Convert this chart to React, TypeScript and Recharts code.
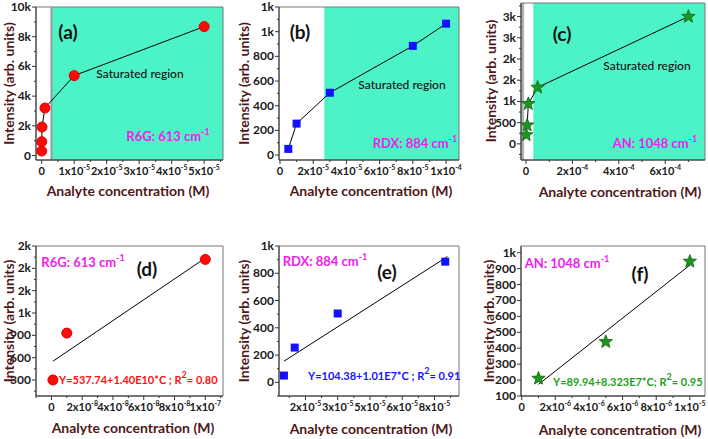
import React from 'react';
import { ScatterChart, Scatter, XAxis, YAxis, ReferenceArea, ReferenceLine } from 'recharts';

const FONT = 'Lato, "Open Sans", sans-serif';
const TEAL = '#4cf3c6';
const TITLE = '#4f1818';
const MAGENTA = '#ee22ee';

// R6G, 613 cm-1
const r6gConc = [1e-9, 1e-8, 1e-7, 1e-6, 1e-5, 5e-5];
const r6gIntensity = [300, 930, 1920, 3200, 5380, 8680];
// RDX, 884 cm-1
const rdxConc = [5e-6, 1e-5, 3e-5, 8e-5, 1e-4];
const rdxIntensity = [50, 255, 505, 885, 1065];
// AN, 1048 cm-1
const anConc = [1e-6, 5e-6, 1e-5, 5e-5, 7e-4];
const anIntensity = [210, 440, 945, 1330, 3000];

const r6gFitConc = [1e-9, 9.8e-8];
const r6gFitIntensity = [552, 1910];
const rdxFitConc = [5e-6, 8.1e-5];
const rdxFitIntensity = [155, 922];
const anFitConc = [1e-6, 1e-5];
const anFitIntensity = [173, 922];

// ticks
const aXTicks = [0, 1e-5, 2e-5, 3e-5, 4e-5, 5e-5];
const aYTicks = [0, 2000, 4000, 6000, 8000, 10000];
const bXTicks = [0, 2e-5, 4e-5, 6e-5, 8e-5, 1e-4];
const bYTicks = [0, 200, 400, 600, 800, 1000, 1200];
const cXTicks = [0, 2e-4, 4e-4, 6e-4];
const cYTicks = [0, 500, 1000, 1500, 2000, 2500, 3000];
const dXTicks = [0, 2e-8, 4e-8, 6e-8, 8e-8, 1e-7];
const dYTicks = [300, 600, 900, 1200, 1500, 1800, 2100];
const eXTicks = [1.5e-5, 3e-5, 4.5e-5, 6e-5, 7.5e-5];
const eYTicks = [0, 200, 400, 600, 800, 1000];
const fXTicks = [0, 2e-6, 4e-6, 6e-6, 8e-6, 1e-5];
const fYTicks = [100, 200, 300, 400, 500, 600, 700, 800, 900, 1000];

const zip = (xs: number[], ys: number[]) => xs.map((x, i) => ({ x, y: ys[i] }));

const near = (a: number, b: number) => Math.abs(a - b) <= Math.abs(b) * 1e-6 + 1e-15;

// majors plus half-step minors inside the domain
function withMinors(majors: number[], domain: [number, number], minor = true) {
  if (!minor) return majors;
  const half = (majors[1] - majors[0]) / 2;
  const out: number[] = [];
  for (let k = -40; k <= 2 * majors.length + 40; k++) {
    const v = majors[0] + k * half;
    if (v >= domain[0] - 1e-15 && v <= domain[1] + 1e-15) out.push(v);
  }
  return out;
}

const fmtK = (v: number) => (v >= 1000 ? `${Math.round(v / 1000)}k` : `${v}`);

function sci(v: number): [string, string] | null {
  if (v === 0) return null;
  const e = Math.floor(Math.log10(v) + 1e-9);
  const m = Math.round(Math.round((v / Math.pow(10, e)) * 1e6) / 1e6);
  return [`${m}x10`, `${e}`];
}

const XTick = (props: any) => {
  const { x, y, payload, majors } = props;
  const v = payload.value;
  const major = majors.some((m: number) => near(v, m));
  const s = sci(v);
  return (
    <g>
      <line x1={x} x2={x} y1={y} y2={y + (major ? 4 : 2)} stroke="#333" />
      {major && (
        <text x={x} y={y + 15} textAnchor="middle" fontSize={11} fontWeight={700} fill="#1a1a1a" fontFamily={FONT}>
          {s ? s[0] : '0'}
          {s && (
            <tspan dy={-5} fontSize={7}>
              {s[1]}
            </tspan>
          )}
        </text>
      )}
    </g>
  );
};

const YTick = (props: any) => {
  const { x, y, payload, majors } = props;
  const v = payload.value;
  const major = majors.some((m: number) => near(v, m));
  return (
    <g>
      <line x1={x - (major ? 4 : 2)} x2={x} y1={y} y2={y} stroke="#333" />
      {major && (
        <text x={x - 5} y={y + 4} textAnchor="end" fontSize={12} fontWeight={700} fill="#1a1a1a" fontFamily={FONT}>
          {fmtK(v)}
        </text>
      )}
    </g>
  );
};

const RedDot = (p: any) => <circle cx={p.cx} cy={p.cy} r={5} fill="#ff0a0a" stroke="#e00000" />;
const BlueSquare = (p: any) => <rect x={p.cx - 4} y={p.cy - 4} width={8} height={8} fill="#1212ff" />;
const GreenStar = (p: any) => {
  const pts: string[] = [];
  for (let i = 0; i < 10; i++) {
    const r = i % 2 === 0 ? 7 : 3;
    const a = -Math.PI / 2 + (i * Math.PI) / 5;
    pts.push(`${p.cx + r * Math.cos(a)},${p.cy + r * Math.sin(a)}`);
  }
  return <polygon points={pts.join(' ')} fill="#1f941f" stroke="#0f6a0f" strokeWidth={0.8} />;
};
const NoMark = () => <g />;

type PanelProps = {
  left: number;
  top: number;
  width: number;
  height: number;
  mTop: number;
  mRight: number;
  yWidth: number;
  xDomain: [number, number];
  yDomain: [number, number];
  xTicks: number[];
  yTicks: number[];
  yMinor?: boolean;
  tealFrom?: number;
  tealEdge?: boolean;
  grayStrip?: [number, number];
  points: { x: number; y: number }[];
  joined?: boolean;
  fit?: { x: number; y: number }[];
  shape: any;
};

function Panel(p: PanelProps) {
  const [x0, x1] = p.xDomain;
  const [y0, y1] = p.yDomain;
  return (
    <div style={{ position: 'absolute', left: p.left, top: p.top }}>
      <ScatterChart width={p.width} height={p.height} margin={{ top: p.mTop, right: p.mRight, bottom: 0, left: 0 }}>
        <XAxis
          type="number"
          dataKey="x"
          domain={p.xDomain}
          allowDataOverflow
          ticks={withMinors(p.xTicks, p.xDomain)}
          interval={0}
          tickSize={0}
          tickMargin={0}
          tickLine={false}
          height={25}
          axisLine={{ stroke: '#333' }}
          tick={<XTick majors={p.xTicks} />}
        />
        <YAxis
          type="number"
          dataKey="y"
          domain={p.yDomain}
          allowDataOverflow
          ticks={withMinors(p.yTicks, p.yDomain, p.yMinor !== false)}
          interval={0}
          tickSize={0}
          tickMargin={0}
          tickLine={false}
          width={p.yWidth}
          axisLine={{ stroke: '#333' }}
          tick={<YTick majors={p.yTicks} />}
        />
        {p.tealFrom !== undefined && (
          <ReferenceArea x1={p.tealFrom} x2={x1} y1={y0} y2={y1} fill={TEAL} fillOpacity={1} stroke="none" />
        )}
        {p.grayStrip && (
          <ReferenceArea x1={p.grayStrip[0]} x2={p.grayStrip[1]} y1={y0} y2={y1} fill="#b4b4b4" fillOpacity={1} stroke="none" />
        )}
        {p.tealEdge && p.tealFrom !== undefined && <ReferenceLine x={p.tealFrom} stroke="#9a9a9a" strokeWidth={2} />}
        <ReferenceArea x1={x0} x2={x1} y1={y0} y2={y1} fill="none" stroke="#777" strokeWidth={1} />
        {p.fit && (
          <Scatter data={p.fit} shape={NoMark} line={{ stroke: '#000', strokeWidth: 1 }} isAnimationActive={false} />
        )}
        <Scatter
          data={p.points}
          shape={p.shape}
          line={p.joined ? { stroke: '#000', strokeWidth: 1 } : false}
          isAnimationActive={false}
        />
      </ScatterChart>
    </div>
  );
}

const Sup = ({ children }: { children: React.ReactNode }) => (
  <tspan dy={-6} fontSize={9}>
    {children}
  </tspan>
);

function Overlay() {
  const yTitles = [
    [8, 83.5],
    [243, 83.5],
    [490, 81],
    [8, 321],
    [243, 321],
    [488, 321],
  ];
  const xTitles = [
    [128, 190],
    [371, 190],
    [620, 191],
    [133, 427],
    [371, 428],
    [620, 429],
  ];
  const common = { fontFamily: FONT, fontWeight: 700 } as const;
  return (
    <svg width={708} height={439} style={{ position: 'absolute', left: 0, top: 0, pointerEvents: 'none' }}>
      {yTitles.map(([x, y], i) => (
        <text
          key={`yt${i}`}
          x={x}
          y={y}
          transform={`rotate(-90 ${x} ${y})`}
          textAnchor="middle"
          dominantBaseline="central"
          fontSize={14}
          fill={TITLE}
          {...common}
        >
          Intensity (arb. units)
        </text>
      ))}
      {xTitles.map(([x, y], i) => (
        <text key={`xt${i}`} x={x} y={y} textAnchor="middle" dominantBaseline="central" fontSize={14} fill={TITLE} {...common}>
          Analyte concentration (M)
        </text>
      ))}

      {/* panel letters */}
      {[
        ['(a)', 68, 31],
        ['(b)', 300, 31],
        ['(c)', 562, 33],
        ['(d)', 147, 268],
        ['(e)', 387, 271],
        ['(f)', 640, 273],
      ].map(([t, x, y]) => (
        <text key={t as string} x={x as number} y={y as number} textAnchor="middle" dominantBaseline="central" fontSize={19} fill="#111" {...common}>
          {t}
        </text>
      ))}

      {/* saturated region */}
      {[
        [140, 73],
        [402, 84],
        [647, 65],
      ].map(([x, y], i) => (
        <text key={`sr${i}`} x={x} y={y} textAnchor="middle" dominantBaseline="central" fontSize={12} fill="#111" fontFamily={FONT} fontWeight={500}>
          Saturated region
        </text>
      ))}

      {/* band labels */}
      <text x={168} y={141} textAnchor="middle" fontSize={13} fill={MAGENTA} {...common}>
        R6G: 613 cm<Sup>-1</Sup>
      </text>
      <text x={415} y={148} textAnchor="middle" fontSize={13} fill={MAGENTA} {...common}>
        RDX: 884 cm<Sup>-1</Sup>
      </text>
      <text x={655} y={148} textAnchor="middle" fontSize={13} fill={MAGENTA} {...common}>
        AN: 1048 cm<Sup>-1</Sup>
      </text>
      <text x={83} y={267} textAnchor="middle" fontSize={13} fill={MAGENTA} {...common}>
        R6G: 613 cm<Sup>-1</Sup>
      </text>
      <text x={325} y={266} textAnchor="middle" fontSize={13} fill={MAGENTA} {...common}>
        RDX: 884 cm<Sup>-1</Sup>
      </text>
      <text x={567} y={268} textAnchor="middle" fontSize={13} fill={MAGENTA} {...common}>
        AN: 1048 cm<Sup>-1</Sup>
      </text>

      {/* fit equations */}
      <text x={59} y={384} fontSize={11} fill="#ff1010" {...common}>
        Y=537.74+1.40E10*C ; R<Sup>2</Sup>
        <tspan dy={6}>= 0.80</tspan>
      </text>
      <text x={308} y={380} fontSize={11} fill="#1515ff" {...common}>
        Y=104.38+1.01E7*C ; R<Sup>2</Sup>
        <tspan dy={6}>= 0.91</tspan>
      </text>
      <text x={553} y={386} fontSize={11} fill="#22a022" {...common}>
        Y=89.94+8.323E7*C; R<Sup>2</Sup>
        <tspan dy={6}>= 0.95</tspan>
      </text>
    </svg>
  );
}

export default function App() {
  const r6g = zip(r6gConc, r6gIntensity);
  const rdx = zip(rdxConc, rdxIntensity);
  const an = zip(anConc, anIntensity);
  return (
    <div style={{ position: 'absolute', left: 0, top: 0, width: 708, height: 439, background: '#fff', fontFamily: FONT }}>
      <Panel
        left={0} top={0} width={228} height={185} mTop={7} mRight={5} yWidth={36}
        xDomain={[-1.75e-6, 5.58e-5]} yDomain={[-300, 10000]}
        xTicks={aXTicks} yTicks={aYTicks}
        tealFrom={3e-6} tealEdge
        points={r6g} joined shape={RedDot}
      />
      <Panel
        left={240} top={0} width={225} height={185} mTop={7} mRight={6} yWidth={39}
        xDomain={[-6e-7, 1.078e-4]} yDomain={[-40, 1200]}
        xTicks={bXTicks} yTicks={bYTicks}
        tealFrom={2.67e-5}
        points={rdx} joined shape={BlueSquare}
      />
      <Panel
        left={480} top={0} width={228} height={185} mTop={3} mRight={3} yWidth={41}
        xDomain={[-2.16e-5, 7.716e-4]} yDomain={[-380, 3320]}
        xTicks={cXTicks} yTicks={cYTicks}
        tealFrom={3.15e-5} grayStrip={[-2.16e-5, -0.8e-5]}
        points={an} joined shape={GreenStar}
      />
      <Panel
        left={0} top={228} width={228} height={193} mTop={18} mRight={5} yWidth={36}
        xDomain={[-1e-8, 1.115e-7]} yDomain={[85, 2100]}
        xTicks={dXTicks} yTicks={dYTicks}
        points={r6g.slice(0, 3)} fit={zip(r6gFitConc, r6gFitIntensity)} shape={RedDot}
      />
      <Panel
        left={240} top={228} width={225} height={193} mTop={18} mRight={6} yWidth={39}
        xDomain={[2.7e-6, 8.64e-5]} yDomain={[-100, 1000]}
        xTicks={eXTicks} yTicks={eYTicks}
        points={rdx.slice(0, 4)} fit={zip(rdxFitConc, rdxFitIntensity)} shape={BlueSquare}
      />
      <Panel
        left={480} top={228} width={228} height={193} mTop={18} mRight={3} yWidth={41}
        xDomain={[-4e-8, 1.09e-5]} yDomain={[100, 1042]}
        xTicks={fXTicks} yTicks={fYTicks} yMinor={false}
        points={an.slice(0, 3)} fit={zip(anFitConc, anFitIntensity)} shape={GreenStar}
      />
      <Overlay />
    </div>
  );
}
